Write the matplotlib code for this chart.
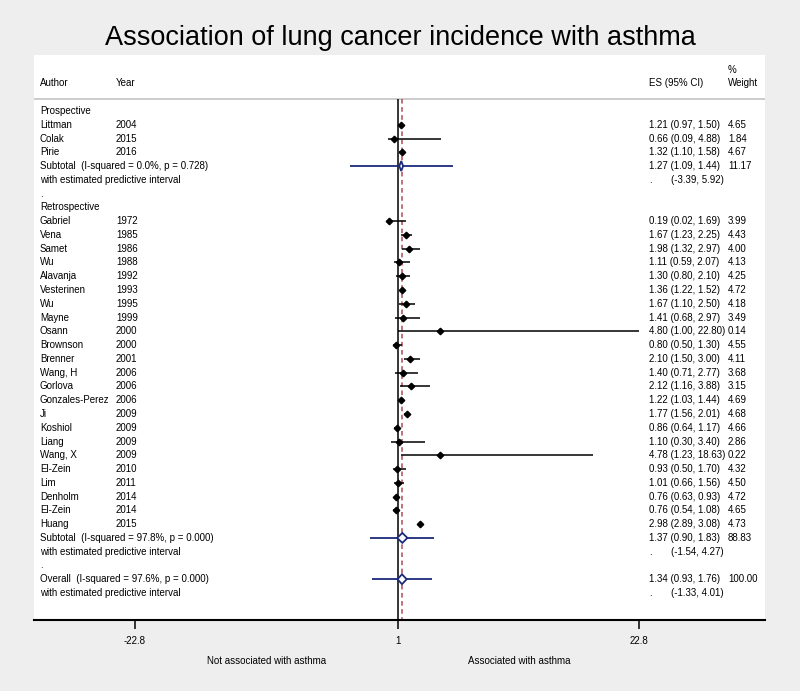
import matplotlib.pyplot as plt
from matplotlib.patches import Polygon
import matplotlib.transforms as mtransforms

plt.rcParams['font.family'] = ['Liberation Sans', 'DejaVu Sans']

# prospective studies
pro_authors = ['Littman', 'Colak', 'Pirie']
pro_years = ['2004', '2015', '2016']
pro_es = [1.21, 0.66, 1.32]
pro_lo = [0.97, 0.09, 1.10]
pro_hi = [1.50, 4.88, 1.58]
pro_wt = [4.65, 1.84, 4.67]
pro_sub = [1.27, 1.09, 1.44, 11.17]      # es, lo, hi, weight
pro_pi = [-3.39, 5.92]
pro_het = 'Subtotal  (I-squared = 0.0%, p = 0.728)'

# retrospective studies
retro_authors = ['Gabriel', 'Vena', 'Samet', 'Wu', 'Alavanja', 'Vesterinen', 'Wu',
                 'Mayne', 'Osann', 'Brownson', 'Brenner', 'Wang, H', 'Gorlova',
                 'Gonzales-Perez', 'Ji', 'Koshiol', 'Liang', 'Wang, X', 'El-Zein',
                 'Lim', 'Denholm', 'El-Zein', 'Huang']
retro_years = ['1972', '1985', '1986', '1988', '1992', '1993', '1995', '1999', '2000',
               '2000', '2001', '2006', '2006', '2006', '2009', '2009', '2009', '2009',
               '2010', '2011', '2014', '2014', '2015']
retro_es = [0.19, 1.67, 1.98, 1.11, 1.30, 1.36, 1.67, 1.41, 4.80, 0.80, 2.10, 1.40,
            2.12, 1.22, 1.77, 0.86, 1.10, 4.78, 0.93, 1.01, 0.76, 0.76, 2.98]
retro_lo = [0.02, 1.23, 1.32, 0.59, 0.80, 1.22, 1.10, 0.68, 1.00, 0.50, 1.50, 0.71,
            1.16, 1.03, 1.56, 0.64, 0.30, 1.23, 0.50, 0.66, 0.63, 0.54, 2.89]
retro_hi = [1.69, 2.25, 2.97, 2.07, 2.10, 1.52, 2.50, 2.97, 22.80, 1.30, 3.00, 2.77,
            3.88, 1.44, 2.01, 1.17, 3.40, 18.63, 1.70, 1.56, 0.93, 1.08, 3.08]
retro_wt = [3.99, 4.43, 4.00, 4.13, 4.25, 4.72, 4.18, 3.49, 0.14, 4.55, 4.11, 3.68,
            3.15, 4.69, 4.68, 4.66, 2.86, 0.22, 4.32, 4.50, 4.72, 4.65, 4.73]
retro_sub = [1.37, 0.90, 1.83, 88.83]
retro_pi = [-1.54, 4.27]
retro_het = 'Subtotal  (I-squared = 97.8%, p = 0.000)'

overall = [1.34, 0.93, 1.76, 100.00]
overall_pi = [-1.33, 4.01]
overall_het = 'Overall  (I-squared = 97.6%, p = 0.000)'

navy = '#1c2a7c'
fs = 7

fig = plt.figure(figsize=(8, 6.91), dpi=100, facecolor='#eeeeee')
ax = fig.add_axes([33.5 / 800, 1 - 620 / 691, 731.5 / 800, 565.5 / 691])
ax.set_facecolor('white')
ax.set_xlim(-31.98, 34.16)
ax.set_ylim(36.96, -4.10)

tr = ax.get_yaxis_transform()   # x in axes fraction, y in data rows


def fx(px):
    return (px - 33.5) / 731.5


def label(y, text, col=40):
    ax.text(fx(col), y, text, transform=tr, fontsize=fs, va='center', ha='left')


def study_rows(y, authors, years, es, lo, hi, wt):
    for a, yr, e, l, h, w in zip(authors, years, es, lo, hi, wt):
        label(y, a)
        label(y, yr, 116)
        label(y, f'{e:.2f} ({l:.2f}, {h:.2f})', 649)
        label(y, f'{w:.2f}', 728)
        ax.hlines(y, l, h, color='black', lw=1.1, zorder=3)
        ax.plot(e, y, 'D', color='black', ms=3.3, zorder=4)
        y += 1
    return y


def pooled(y, het, vals, pi):
    e, l, h, w = vals
    label(y, het)
    label(y, f'{e:.2f} ({l:.2f}, {h:.2f})', 649)
    label(y, f'{w:.2f}', 728)
    ax.hlines(y, pi[0], pi[1], color=navy, lw=1.3, zorder=3)
    ax.add_patch(Polygon([[l, y], [e, y - 0.36], [h, y], [e, y + 0.36]], closed=True,
                         fc='white', ec=navy, lw=1.3, zorder=5))
    label(y + 1, 'with estimated predictive interval')
    label(y + 1, '.', 649)
    label(y + 1, f'({pi[0]:.2f}, {pi[1]:.2f})', 671)
    return y + 2


# header
label(-2.03, 'Author')
label(-2.03, 'Year', 116)
label(-2.03, 'ES (95% CI)', 649)
label(-2.98, '%', 728)
label(-2.03, 'Weight', 728)
ax.axhline(-0.835, color='#c8c8c8', lw=1.3)

y = 0
label(y, 'Prospective')
y = study_rows(y + 1, pro_authors, pro_years, pro_es, pro_lo, pro_hi, pro_wt)
y = pooled(y, pro_het, pro_sub, pro_pi)
label(y, '.')
label(y + 1, 'Retrospective')
y = study_rows(y + 2, retro_authors, retro_years, retro_es, retro_lo, retro_hi, retro_wt)
y = pooled(y, retro_het, retro_sub, retro_pi)
label(y, '.')
y = pooled(y + 1, overall_het, overall, overall_pi)

# null line and overall effect line
ax.vlines(1, -0.835, 36.96, color='black', lw=1.1, zorder=2)
ax.vlines(overall[0], -0.835, 36.96, color='#b04a55', lw=1.1,
          linestyles=(0, (3, 2.3)), zorder=2)

for s in ['top', 'left', 'right']:
    ax.spines[s].set_visible(False)
ax.spines['bottom'].set_linewidth(1.5)
ax.set_yticks([])
ax.set_xticks([-22.8, 1, 22.8])
ax.set_xticklabels(['-22.8', '1', '22.8'])
ax.tick_params(axis='x', direction='out', length=6.5, width=1.1, labelsize=fs, pad=5)

btr = mtransforms.blended_transform_factory(ax.transData, ax.transAxes)
ax.text((-22.8 + 1) / 2, -0.072, 'Not associated with asthma', transform=btr,
        fontsize=fs, ha='center', va='center')
ax.text((22.8 + 1) / 2, -0.072, 'Associated with asthma', transform=btr,
        fontsize=fs, ha='center', va='center')

fig.text(0.5, 1 - 45 / 691, 'Association of lung cancer incidence with asthma',
         fontsize=19.5, ha='center', va='baseline')

fig.savefig('out.png', dpi=100, facecolor=fig.get_facecolor())
